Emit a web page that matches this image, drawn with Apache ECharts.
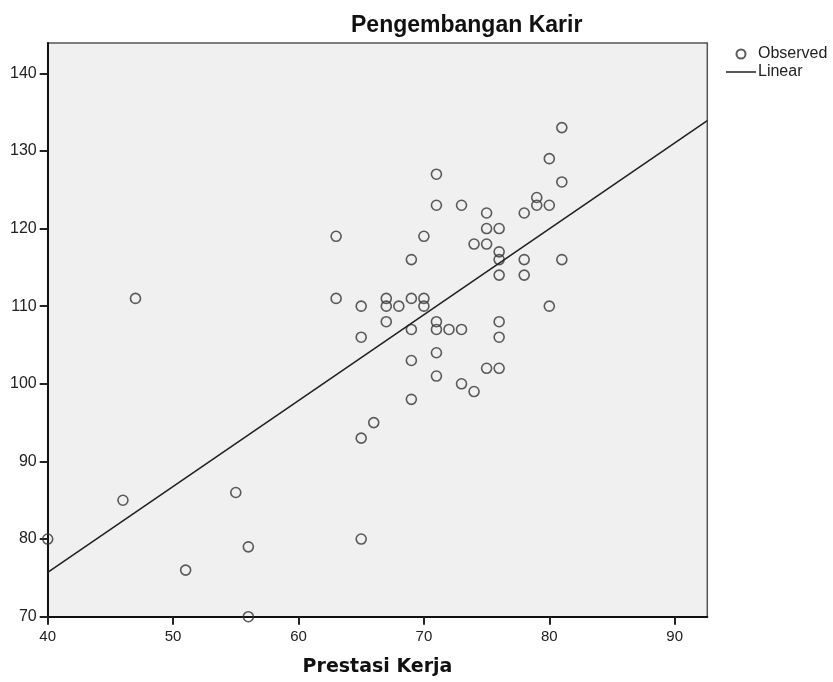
<!DOCTYPE html>
<html>
<head>
<meta charset="utf-8">
<script src="https://cdn.jsdelivr.net/npm/echarts@6/dist/echarts.min.js"></script>
<style>
  html, body { margin: 0; padding: 0; background: #fff; }
  #chart { width: 833px; height: 682px; }
</style>
</head>
<body>
<div id="chart"></div>
<script>
// Observed points: Prestasi Kerja (x) vs Pengembangan Karir (y)
const prestasi = [40, 46, 47, 51, 55, 56, 56, 63, 63, 65, 65, 65, 65, 66, 67, 67, 67, 68,
  69, 69, 69, 69, 69, 70, 70, 70, 71, 71, 71, 71, 71, 71, 72, 73, 73, 73, 74, 74,
  75, 75, 75, 75, 76, 76, 76, 76, 76, 76, 76, 78, 78, 78, 79, 79, 80, 80, 80, 81, 81, 81];
const karir = [80, 85, 111, 76, 86, 79, 70, 119, 111, 110, 106, 93, 80, 95, 111, 110, 108, 110,
  116, 111, 107, 103, 98, 119, 111, 110, 127, 123, 108, 107, 104, 101, 107, 123, 107, 100, 118, 99,
  122, 120, 118, 102, 120, 117, 116, 114, 108, 106, 102, 122, 116, 114, 124, 123, 129, 123, 110, 133, 126, 116];

// fitted line as drawn (read at the plot edges)
const linearX = [40, 92.6];
const linearY = [75.7, 133.9];

const xTicks = [40, 50, 60, 70, 80, 90];
const yTicks = [70, 80, 90, 100, 110, 120, 130, 140];

const observed = prestasi.map((x, i) => [x, karir[i]]);
const linear = linearX.map((x, i) => [x, linearY[i]]);

const chart = echarts.init(document.getElementById('chart'));

const axisCommon = {
  type: 'value',
  splitLine: { show: false },
  axisLine: { show: true, lineStyle: { color: '#111', width: 2 } },
  axisTick: { show: true, length: 8, lineStyle: { color: '#222', width: 2 } },
  axisLabel: { color: '#222', fontFamily: 'Liberation Sans', fontSize: 15 }
};

chart.setOption({
  animation: false,
  backgroundColor: '#fff',
  title: {
    text: 'Pengembangan Karir',
    left: 351,
    top: 14,
    padding: 0,
    textStyle: { fontFamily: 'Liberation Sans', fontSize: 23, fontWeight: 'bold', color: '#111' }
  },
  legend: {
    orient: 'vertical',
    left: 726,
    top: 46,
    itemWidth: 30,
    itemHeight: 9,
    itemGap: 2,
    padding: 0,
    textStyle: { fontFamily: 'Liberation Sans', fontSize: 16, color: '#222', padding: [0, 0, 0, -3] },
    data: [
      'Observed',
      // plain line icon, no centre dot
      { name: 'Linear', icon: 'path://M0,0 L20,0 L20,1 L0,1 Z' }
    ]
  },
  grid: {
    left: 47.7,
    right: 125.7,
    top: 43,
    bottom: 65.3,
    show: true,
    backgroundColor: '#f0f0f0',
    borderColor: '#555',
    borderWidth: 1.5
  },
  xAxis: Object.assign({}, axisCommon, {
    min: 40,
    max: 92.6,
    interval: 10,
    name: 'Prestasi Kerja',
    nameLocation: 'middle',
    nameGap: 41,
    nameTextStyle: { fontFamily: 'DejaVu Sans', fontSize: 19, fontWeight: 'bold', color: '#111' },
    axisTick: Object.assign({}, axisCommon.axisTick, { customValues: xTicks }),
    axisLabel: Object.assign({}, axisCommon.axisLabel, { customValues: xTicks, margin: 13 })
  }),
  yAxis: Object.assign({}, axisCommon, {
    min: 70,
    max: 143.9,
    interval: 10,
    axisTick: Object.assign({}, axisCommon.axisTick, { customValues: yTicks }),
    axisLabel: Object.assign({}, axisCommon.axisLabel, { customValues: yTicks, margin: 11, fontSize: 16 })
  }),
  series: [
    {
      name: 'Observed',
      type: 'scatter',
      data: observed,
      symbol: 'circle',
      symbolSize: 10,
      itemStyle: { color: 'rgba(0,0,0,0)', borderColor: '#333', borderWidth: 1.6 },
      z: 3
    },
    {
      name: 'Linear',
      type: 'line',
      data: linear,
      symbol: 'none',
      lineStyle: { color: '#222', width: 1.6 },
      itemStyle: { color: '#222' },
      z: 4
    }
  ]
});
</script>
</body>
</html>
